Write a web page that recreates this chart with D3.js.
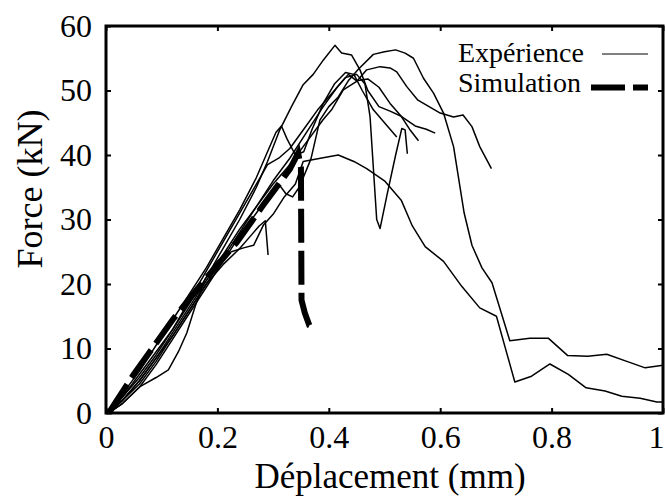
<!DOCTYPE html>
<html>
<head>
<meta charset="utf-8">
<script src="https://cdn.jsdelivr.net/npm/d3@7"></script>
<style>
  html, body { margin: 0; padding: 0; background: #fff; }
  svg text { font-family: "Liberation Serif", "Times New Roman", serif; fill: #000; }
</style>
</head>
<body>
<svg id="chart" width="665" height="499"></svg>
<script>
const xTicks = [0, 0.2, 0.4, 0.6, 0.8, 1];
const xTickLabels = ["0", "0.2", "0.4", "0.6", "0.8", "1"];
const yTicks = [0, 10, 20, 30, 40, 50, 60];
const yTickLabels = ["0", "10", "20", "30", "40", "50", "60"];
const xTitle = "Déplacement (mm)";
const yTitle = "Force (kN)";
const legendLabels = ["Expérience", "Simulation"];

// Experimental curves [displacement (mm), force (kN)]
const exp1 = [[0.005,0],[0.03,2.5],[0.06,6],[0.09,9.5],[0.12,13],[0.15,17],[0.18,21],[0.21,25.5],[0.24,30],[0.27,35],[0.29,39],[0.312,43.9],[0.333,47.5],[0.354,50.9],[0.372,52.5],[0.39,54.7],[0.411,57],[0.423,55.8],[0.441,55.5],[0.456,53.2],[0.47,50],[0.49,47.5],[0.51,46.8],[0.53,46],[0.555,44.5],[0.575,44],[0.591,43.4]];
const exp2 = [[0.005,0],[0.03,1.5],[0.06,4],[0.09,7.5],[0.12,11.5],[0.15,15.5],[0.18,19.5],[0.21,23.5],[0.24,27.5],[0.27,31],[0.295,34],[0.31,35.5],[0.323,34],[0.335,33.5],[0.347,35],[0.368,39.4],[0.384,45.4],[0.4,47.5],[0.417,49],[0.435,51.5],[0.453,53.3],[0.48,55.6],[0.5,56],[0.52,56.3],[0.537,55.8],[0.552,55],[0.57,51.9],[0.588,49.6],[0.606,46.5],[0.624,41.3],[0.643,31],[0.657,26],[0.675,22.5],[0.693,20.2],[0.725,11.2],[0.761,11.6],[0.794,11.6],[0.829,8.9],[0.865,8.8],[0.899,9.1],[0.935,8],[0.968,7.0],[1.0,7.4]];
const exp3 = [[0.005,0],[0.03,2],[0.06,5],[0.09,8.5],[0.12,12.5],[0.15,16.5],[0.18,20.5],[0.21,24.5],[0.24,28.5],[0.27,32],[0.3,35.5],[0.33,38.5],[0.36,42],[0.39,45.5],[0.405,47],[0.426,50.1],[0.45,51.4],[0.468,53.2],[0.492,53.7],[0.51,53.5],[0.522,52.9],[0.54,50.6],[0.56,48.5],[0.58,47.5],[0.6,46.5],[0.624,45.9],[0.641,46.2],[0.657,44.4],[0.671,41.3],[0.692,37.9]];
const exp4 = [[0.005,0],[0.03,1.5],[0.061,4.1],[0.09,5.5],[0.112,6.7],[0.13,9.5],[0.145,12.4],[0.16,16.5],[0.178,20.8],[0.2,23.5],[0.225,25],[0.247,25.6],[0.265,26],[0.283,29.2],[0.3,30.8],[0.32,33.5],[0.34,35.5],[0.354,39],[0.385,39.5],[0.417,40],[0.445,39],[0.468,37.9],[0.5,36],[0.53,33],[0.55,29],[0.573,25.8],[0.606,23.5],[0.639,19.6],[0.671,16.3],[0.701,15],[0.734,4.8],[0.764,5.7],[0.797,7.6],[0.83,6],[0.862,3.9],[0.896,3.4],[0.926,2.6],[0.959,2.3],[0.989,1.7],[1.0,1.7]];
const exp5 = [[0.005,0],[0.03,2.5],[0.06,5.5],[0.09,9],[0.12,13],[0.15,17.5],[0.18,22],[0.21,26.5],[0.24,31],[0.27,35.5],[0.29,38.5],[0.31,39.5],[0.33,41],[0.355,44],[0.38,47],[0.41,50],[0.43,52],[0.45,52.5],[0.465,51],[0.474,46],[0.486,30],[0.492,28.6],[0.505,34],[0.52,40],[0.531,44.1],[0.537,43.9],[0.541,40.2]];
const exp6 = [[0.005,0],[0.03,3],[0.06,6.5],[0.09,10.5],[0.12,14.5],[0.15,18.5],[0.18,22.5],[0.21,27],[0.24,31.5],[0.27,36.5],[0.29,40.5],[0.305,43.5],[0.315,44.5],[0.325,42.5],[0.34,40],[0.355,40.5],[0.37,44],[0.39,48],[0.41,51],[0.43,52.8],[0.445,52.5],[0.46,50],[0.48,47],[0.5,45],[0.522,42.8]];
const exp7 = [[0.005,0],[0.03,2],[0.06,4.5],[0.09,8],[0.12,12],[0.15,16],[0.18,20],[0.21,24],[0.24,28],[0.27,32],[0.3,36],[0.33,39.5],[0.36,43.5],[0.39,47.5],[0.415,50.5],[0.435,52.5],[0.45,51.5],[0.47,51.8],[0.49,50.5],[0.51,48],[0.53,46],[0.545,44],[0.561,42.2]];
const exp8 = [[0.005,0],[0.03,2],[0.06,5],[0.09,8.5],[0.12,12],[0.15,16],[0.18,20],[0.21,23],[0.24,25.5],[0.26,27.5],[0.275,29],[0.286,29.8],[0.291,24.5]];
const experiments = [exp1, exp2, exp3, exp4, exp5, exp6, exp7, exp8];

// Simulation curve
const simulation = [[0.005,0],[0.05,6],[0.12,14.5],[0.172,20.1],[0.235,26.5],[0.282,32.2],[0.33,37.8],[0.345,40.3],[0.35,38],[0.351,17.5],[0.357,15.5],[0.365,13.6],[0.372,13.3]];

const svg = d3.select("#chart");
const x = d3.scaleLinear().domain([0, 1]).range([106, 663]);
const y = d3.scaleLinear().domain([0, 60]).range([413, 26]);
const font = '"Liberation Serif", "Times New Roman", serif';

const line = d3.line().x(d => x(d[0])).y(d => y(d[1]));

const plot = svg.append("g");
plot.selectAll("path.exp").data(experiments).join("path")
  .attr("class", "exp")
  .attr("d", line)
  .attr("fill", "none").attr("stroke", "#000")
  .attr("stroke-width", 1.5).attr("stroke-linejoin", "round");

plot.append("path").datum(simulation)
  .attr("d", line)
  .attr("fill", "none").attr("stroke", "#000")
  .attr("stroke-width", 6).attr("stroke-dasharray", "34,8");

// Axes (ticks inward on all four sides)
function styleAxis(g) {
  g.select(".domain").remove();
  g.selectAll(".tick line").attr("stroke", "#000").attr("stroke-width", 2);
  g.selectAll(".tick text").style("font-family", font).style("font-size", "32px").attr("fill", "#000");
}
const bottomAxis = svg.append("g").attr("transform", "translate(0,413)")
  .call(d3.axisBottom(x).tickValues(xTicks).tickFormat((d, i) => xTickLabels[i]).tickSizeInner(-5).tickSizeOuter(0).tickPadding(12))
  .call(styleAxis);
// keep the last label ("1") inside the window
bottomAxis.selectAll(".tick text").filter(d => d === 1).attr("text-anchor", "end").attr("dx", "1");

svg.append("g").attr("transform", "translate(0,26)")
  .call(d3.axisTop(x).tickValues(xTicks).tickFormat("").tickSizeInner(-5).tickSizeOuter(0))
  .call(styleAxis);
svg.append("g").attr("transform", "translate(106,0)")
  .call(d3.axisLeft(y).tickValues(yTicks).tickFormat((d, i) => yTickLabels[i]).tickSizeInner(-5).tickSizeOuter(0).tickPadding(14))
  .call(styleAxis);
svg.append("g").attr("transform", "translate(663,0)")
  .call(d3.axisRight(y).tickValues(yTicks).tickFormat("").tickSizeInner(-5).tickSizeOuter(0))
  .call(styleAxis);

svg.append("rect")
  .attr("x", x(0)).attr("y", y(60))
  .attr("width", x(1) - x(0)).attr("height", y(0) - y(60))
  .attr("fill", "none").attr("stroke", "#000").attr("stroke-width", 3);

// Titles
svg.append("text").attr("x", 390).attr("y", 488)
  .attr("text-anchor", "middle").style("font-size", "35px").text(xTitle);
svg.append("text").attr("transform", "translate(42,189) rotate(-90)")
  .attr("text-anchor", "middle").style("font-size", "36px").text(yTitle);

// Legend
const leg = svg.append("g");
leg.append("text").attr("x", 458).attr("y", 62).style("font-size", "28px").text(legendLabels[0]);
leg.append("line").attr("x1", 602).attr("x2", 648).attr("y1", 54).attr("y2", 54)
  .attr("stroke", "#000").attr("stroke-width", 1);
leg.append("text").attr("x", 458).attr("y", 92).style("font-size", "28px").text(legendLabels[1]);
leg.append("line").attr("x1", 591).attr("x2", 648).attr("y1", 87.5).attr("y2", 87.5)
  .attr("stroke", "#000").attr("stroke-width", 6).attr("stroke-dasharray", "34,8");
</script>
</body>
</html>
